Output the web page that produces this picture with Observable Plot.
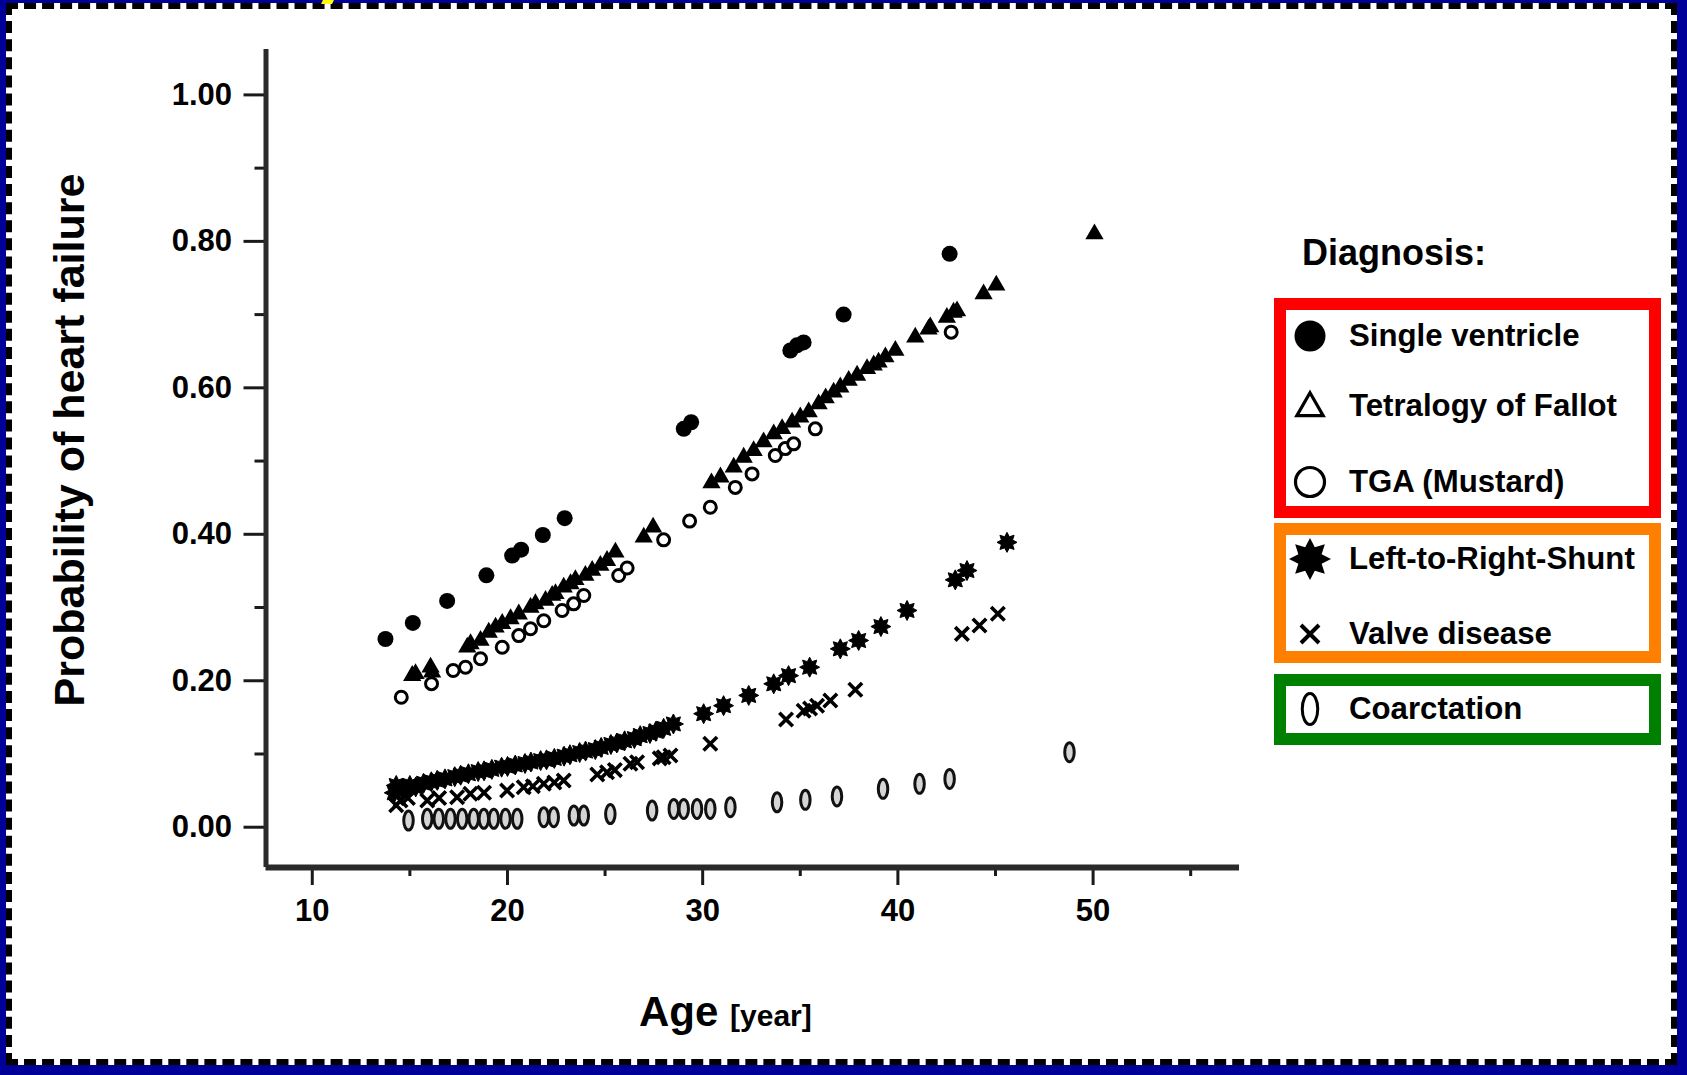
<!DOCTYPE html>
<html>
<head>
<meta charset="utf-8">
<script src="https://cdn.jsdelivr.net/npm/d3@7"></script>
<script src="https://cdn.jsdelivr.net/npm/@observablehq/plot@0.6"></script>
<style>
  html, body { margin: 0; padding: 0; }
  body { width: 1687px; height: 1075px; background: #000099; position: relative; overflow: hidden;
         font-family: "Liberation Sans", Arial, Helvetica, sans-serif; font-weight: bold; color: #000; }
  #panel { position: absolute; left: 6px; top: 3px; right: 10px; bottom: 10px; background: #fff;
           border: 6px dashed #000; }
  #chart { position: absolute; left: 0; top: 0; }
  .abs { position: absolute; white-space: nowrap; line-height: 1; }
  #ytitle { left: 69px; top: 440px; font-size: 43px; transform: translate(-50%, -50%) rotate(-90deg); }
  #xtitle { left: 639px; top: 991px; font-size: 42px; line-height: 42px; }
  #xtitle span { font-size: 30px; }
  .box { position: absolute; box-sizing: border-box; left: 1274px; width: 387px; border-style: solid; border-width: 12px; }
  .row { position: absolute; left: 1349px; font-size: 31.2px; transform: translateY(-50%); line-height: 1; white-space: nowrap; }
  .sym { position: absolute; left: 1286px; width: 48px; height: 48px; transform: translateY(-50%); }
  #yellow { position: absolute; left: 322px; top: 0; width: 11px; height: 4px; background: #ffff00; transform: skewX(-25deg); }
</style>
</head>
<body>
<div id="panel"></div>
<div id="yellow"></div>
<div id="chart"></div>
<div id="ytitle" class="abs">Probability of heart failure</div>
<div id="xtitle" class="abs">Age <span>[year]</span></div>
<div id="legend"></div>
<script>
// ---------- data ----------
const seriesNames = ["Single ventricle", "Tetralogy of Fallot", "TGA (Mustard)", "Left-to-Right-Shunt", "Valve disease", "Coarctation"];
const legendTitle = "Diagnosis:";
const xTicks = [10, 20, 30, 40, 50];
const xMinorTicks = [15, 25, 35, 45, 55];
const yTicks = [0, 0.2, 0.4, 0.6, 0.8, 1.0];
const yMinorTicks = [0.1, 0.3, 0.5, 0.7, 0.9];

const singleAge = [13.75, 15.15, 16.91, 18.92, 20.24, 20.70, 21.81, 22.93, 29.03, 29.41, 34.49, 34.83, 35.17, 37.22, 42.65];
const singleP   = [0.257, 0.279, 0.309, 0.344, 0.371, 0.379, 0.399, 0.422, 0.544, 0.553, 0.651, 0.658, 0.662, 0.700, 0.783];

const tofAge = [15.12, 15.29, 16.06, 16.14, 17.94, 18.11, 18.62, 19.04, 19.39, 19.73, 20.16, 20.58, 21.18, 21.43, 21.95, 22.29, 22.46, 22.88, 23.23, 23.48, 23.99, 24.34, 24.76, 25.10, 25.53, 26.98, 27.46,
                30.45, 30.91, 31.59, 32.10, 32.61, 33.12, 33.64, 34.07, 34.58, 35.00, 35.43, 35.94, 36.30, 36.71, 37.05, 37.48, 37.91, 38.42, 38.76, 39.01, 39.36, 39.87, 40.89, 41.57, 41.66, 42.51, 42.85, 43.03, 44.39, 45.04, 50.07];
const tofP   = [0.207, 0.2095, 0.2185, 0.2116, 0.2458, 0.2504, 0.255, 0.266, 0.273, 0.278, 0.2845, 0.291, 0.300, 0.305, 0.3095, 0.3164, 0.3187, 0.3277, 0.3323, 0.3378, 0.3437, 0.3505, 0.3573, 0.364, 0.3755, 0.396, 0.4096,
                0.470, 0.478, 0.4915, 0.505, 0.514, 0.526, 0.537, 0.544, 0.553, 0.560, 0.567, 0.578, 0.586, 0.594, 0.601, 0.610, 0.617, 0.626, 0.631, 0.635, 0.642, 0.651, 0.669, 0.680, 0.683, 0.696, 0.703, 0.705, 0.728, 0.740, 0.810];

const tgaAge = [14.56, 16.11, 17.22, 17.85, 18.62, 19.73, 20.58, 21.18, 21.86, 22.80, 23.39, 23.91, 25.70, 26.13, 28.00, 29.33, 30.39, 31.67, 32.53, 33.72, 34.23, 34.66, 35.77, 42.73];
const tgaP   = [0.1775, 0.196, 0.214, 0.2185, 0.230, 0.2458, 0.2617, 0.271, 0.282, 0.296, 0.305, 0.3164, 0.3437, 0.354, 0.3924, 0.418, 0.437, 0.464, 0.4825, 0.5075, 0.517, 0.5235, 0.544, 0.676];

const shuntAge = [14.2, 14.3, 14.6, 15.0, 15.3, 15.7, 16.1, 16.4, 16.8, 17.3, 17.6, 18.0, 18.5, 18.8, 19.2, 19.7, 20.0, 20.4, 20.9, 21.2, 21.7, 22.0, 22.4, 22.9, 23.2, 23.7, 24.0, 24.5, 24.8, 25.3, 25.6, 26.0, 26.5, 26.8, 27.3, 27.6, 28.0, 28.5,
                  30.05, 31.07, 32.36, 33.64, 34.40, 35.48, 37.05, 37.99, 39.13, 40.47, 42.94, 43.54, 45.59];
const shuntP   = [0.047, 0.057, 0.053, 0.057, 0.055, 0.060, 0.062, 0.064, 0.066, 0.069, 0.071, 0.073, 0.076, 0.077, 0.079, 0.082, 0.083, 0.085, 0.087, 0.089, 0.091, 0.092, 0.094, 0.097, 0.099, 0.102, 0.104, 0.106, 0.109, 0.113, 0.115, 0.118, 0.121, 0.125, 0.128, 0.131, 0.135, 0.141,
                  0.155, 0.166, 0.180, 0.1958, 0.207, 0.2185, 0.2436, 0.255, 0.274, 0.296, 0.3378, 0.3505, 0.389];

const valveAge = [14.3, 14.52, 14.9, 15.89, 16.5, 17.42, 18.1, 18.8, 19.98, 20.83, 21.3, 21.86, 22.4, 22.88, 24.6, 25.1, 25.5, 26.3, 26.64, 27.8, 28.0, 28.35, 30.39, 34.27, 35.17, 35.5, 35.86, 36.54, 37.82, 43.28, 44.18, 45.12];
const valveP   = [0.030, 0.0365, 0.040, 0.0365, 0.040, 0.041, 0.0456, 0.047, 0.0501, 0.0546, 0.056, 0.0593, 0.061, 0.0638, 0.072, 0.0751, 0.078, 0.0866, 0.0888, 0.094, 0.0956, 0.098, 0.114, 0.147, 0.159, 0.162, 0.166, 0.173, 0.1876, 0.264, 0.2754, 0.2914];

const coarctAge = [14.93, 15.89, 16.48, 17.08, 17.68, 18.27, 18.79, 19.30, 19.90, 20.50, 21.86, 22.37, 23.40, 23.91, 25.27, 27.41, 28.52, 29.03, 29.71, 30.39, 31.42, 33.81, 35.26, 36.88, 39.24, 41.11, 42.65, 48.79];
const coarctP   = [0.0091, 0.0115, 0.0115, 0.0115, 0.0115, 0.0115, 0.0115, 0.0115, 0.0115, 0.0115, 0.0137, 0.0137, 0.016, 0.016, 0.018, 0.0228, 0.025, 0.025, 0.025, 0.025, 0.0273, 0.034, 0.0374, 0.042, 0.0524, 0.0592, 0.066, 0.1024];

// ---------- custom symbols ----------
const starSymbol = {
  draw(ctx, size) {
    const R = Math.sqrt(size / Math.PI), r = R * 0.6;
    for (let i = 0; i < 16; i++) {
      const a = i * Math.PI / 8 - Math.PI / 2, rr = i % 2 ? r : R;
      if (i === 0) ctx.moveTo(rr * Math.cos(a), rr * Math.sin(a)); else ctx.lineTo(rr * Math.cos(a), rr * Math.sin(a));
    }
    ctx.closePath();
  }
};
const ellipseSymbol = {
  draw(ctx, size) {
    const ry = Math.sqrt(size / Math.PI), rx = ry * 0.5, k = 0.5523;
    ctx.moveTo(0, -ry);
    ctx.bezierCurveTo(k * rx, -ry, rx, -k * ry, rx, 0);
    ctx.bezierCurveTo(rx, k * ry, k * rx, ry, 0, ry);
    ctx.bezierCurveTo(-k * rx, ry, -rx, k * ry, -rx, 0);
    ctx.bezierCurveTo(-rx, -k * ry, -k * rx, -ry, 0, -ry);
    ctx.closePath();
  }
};

const zip = (a, b) => a.map((x, i) => ({age: x, p: b[i]}));
const single = zip(singleAge, singleP), tof = zip(tofAge, tofP), tga = zip(tgaAge, tgaP);
const shunt = zip(shuntAge, shuntP), valve = zip(valveAge, valveP), coarct = zip(coarctAge, coarctP);

const xDomain = [7.63, 57.5], yDomain = [-0.055, 1.062];
const ink = "#1a1a1a";

const plot = Plot.plot({
  width: 1687, height: 1075,
  marginLeft: 265.5, marginRight: 448, marginTop: 49, marginBottom: 208,
  style: {background: "transparent", fontFamily: "'Liberation Sans', Arial, sans-serif", fontWeight: "bold", color: "#000", overflow: "visible"},
  x: {domain: xDomain},
  y: {domain: yDomain},
  marks: [
    Plot.axisY({ticks: yMinorTicks, tickSize: 11, tickFormat: () => "", stroke: ink, strokeWidth: 3, label: null}),
    Plot.axisY({ticks: yTicks, tickSize: 22, tickPadding: 12, tickFormat: d3.format(".2f"), fontSize: 31, stroke: ink, strokeWidth: 3, label: null}),
    Plot.axisX({ticks: xMinorTicks, tickSize: 9, tickFormat: () => "", stroke: ink, strokeWidth: 3, label: null}),
    Plot.axisX({ticks: xTicks, tickSize: 18, tickPadding: 13, fontSize: 31, stroke: ink, strokeWidth: 3, label: null}),
    Plot.ruleX([xDomain[0]], {y1: yDomain[0], y2: yDomain[1], stroke: "#2a2a2a", strokeWidth: 5}),
    Plot.ruleY([yDomain[0]], {x1: xDomain[0], x2: xDomain[1], stroke: "#2a2a2a", strokeWidth: 6}),
    Plot.dot(coarct, {x: "age", y: "p", symbol: ellipseSymbol, r: 9.5, stroke: "#111", strokeWidth: 3, fill: "#888", fillOpacity: 0.35}),
    Plot.dot(valve, {x: "age", y: "p", symbol: "times", r: 6.2, stroke: "#000", strokeWidth: 3.6}),
    Plot.dot(shunt, {x: "age", y: "p", symbol: starSymbol, r: 10, fill: "#000", stroke: "#000", strokeWidth: 1}),
    Plot.dot(tof, {x: "age", y: "p", symbol: "triangle", r: 5.5, stroke: "#000", strokeWidth: 2, fill: "#000"}),
    Plot.dot(tga, {x: "age", y: "p", symbol: "circle", r: 6, stroke: "#000", strokeWidth: 3, fill: "#fff"}),
    Plot.dot(single, {x: "age", y: "p", symbol: "circle", r: 8, fill: "#000", stroke: "none"})
  ]
});
document.getElementById("chart").appendChild(plot);

// ---------- legend ----------
const legend = document.getElementById("legend");
const boxes = [
  {top: 298, height: 220, color: "#ff0000"},
  {top: 523, height: 140, color: "#ff8000"},
  {top: 674, height: 71, color: "#008000"}
];
for (const b of boxes) {
  const d = document.createElement("div");
  d.className = "box";
  d.style.top = b.top + "px"; d.style.height = b.height + "px"; d.style.borderColor = b.color;
  legend.appendChild(d);
}
const title = document.createElement("div");
title.className = "abs";
title.style.cssText = "left:1302px; top:253px; font-size:36px; transform: translateY(-50%);";
title.textContent = legendTitle;
legend.appendChild(title);

const rowY = [336, 406, 482, 559, 634, 709];
function symbolPath(sym, r) {
  const p = d3.path();
  sym.draw(p, Math.PI * r * r);
  return p.toString();
}
const legendSymbols = [
  `<circle cx="24" cy="24" r="15.5" fill="#000"/>`,
  `<path transform="translate(24,26)" d="${d3.symbol(d3.symbolTriangle, 300)()}" fill="none" stroke="#000" stroke-width="3.2"/>`,
  `<circle cx="24" cy="24" r="14.5" fill="none" stroke="#000" stroke-width="3.2"/>`,
  `<path transform="translate(24,24)" d="${symbolPath(starSymbol, 21)}" fill="#000"/>`,
  `<path d="M15,15 L33,33 M33,15 L15,33" stroke="#000" stroke-width="4"/>`,
  `<path transform="translate(24,24)" d="${symbolPath(ellipseSymbol, 15.5)}" fill="none" stroke="#000" stroke-width="3"/>`
];
seriesNames.forEach((name, i) => {
  const s = document.createElement("div");
  s.className = "sym";
  s.style.top = rowY[i] + "px";
  s.innerHTML = `<svg width="48" height="48" viewBox="0 0 48 48">${legendSymbols[i]}</svg>`;
  legend.appendChild(s);
  const t = document.createElement("div");
  t.className = "row";
  t.style.top = rowY[i] + "px";
  t.textContent = name;
  legend.appendChild(t);
});
</script>
</body>
</html>
